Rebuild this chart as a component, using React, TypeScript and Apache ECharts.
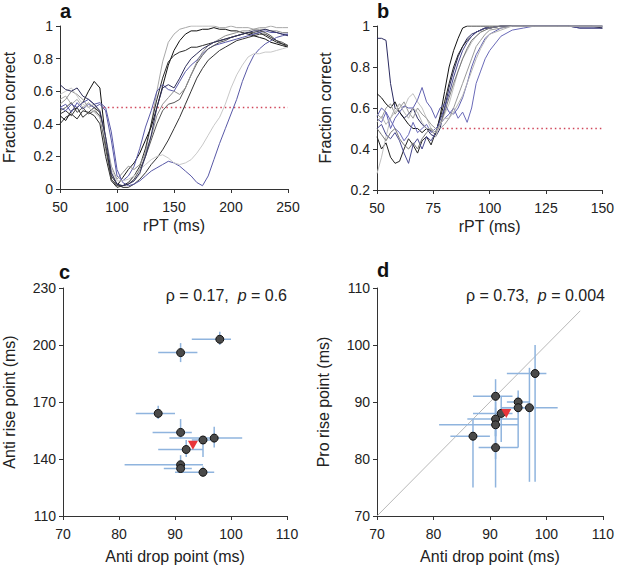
import React, { useEffect, useRef } from "react";
import * as echarts from "echarts";

const FONT = '"Liberation Sans", Arial, Helvetica, sans-serif';

// ---------- Panel a: anti-saccade tracking curves ----------
const aX = [50, 55, 60, 65, 70, 75, 80, 85, 90, 95, 100, 105, 110, 115, 120, 125, 130, 135, 140, 145, 150, 155, 160, 165, 170, 175, 180, 185, 190, 195, 200, 205, 210, 215, 220, 225, 230, 235, 240, 245, 250];
const aY1 = [0.55, 0.57, 0.52, 0.55, 0.5, 0.53, 0.5, 0.44, 0.3, 0.1, 0.03, 0.02, 0.03, 0.05, 0.09, 0.22, 0.4, 0.6, 0.78, 0.9, 0.95, 0.98, 0.99, 1, 1, 1, 1, 1, 0.99, 0.99, 1, 0.99, 0.99, 0.99, 0.98, 0.99, 0.99, 1, 0.99, 0.99, 0.99];
const aY2 = [0.45, 0.42, 0.48, 0.5, 0.53, 0.6, 0.66, 0.62, 0.3, 0.06, 0.02, 0.07, 0.12, 0.16, 0.22, 0.3, 0.38, 0.5, 0.63, 0.76, 0.85, 0.91, 0.95, 0.97, 0.97, 0.98, 0.98, 0.99, 0.98, 0.98, 0.97, 0.97, 0.96, 0.95, 0.94, 0.93, 0.92, 0.9, 0.89, 0.88, 0.87];
const aY3 = [0.4, 0.44, 0.46, 0.43, 0.48, 0.47, 0.45, 0.4, 0.2, 0.05, 0.01, 0.02, 0.04, 0.08, 0.14, 0.25, 0.4, 0.55, 0.68, 0.78, 0.82, 0.84, 0.85, 0.87, 0.87, 0.88, 0.89, 0.9, 0.91, 0.92, 0.93, 0.94, 0.95, 0.96, 0.95, 0.96, 0.94, 0.92, 0.9, 0.89, 0.88];
const aY4 = [0.5, 0.52, 0.47, 0.53, 0.49, 0.52, 0.5, 0.52, 0.48, 0.3, 0.08, 0.05, 0.08, 0.14, 0.25, 0.38, 0.48, 0.6, 0.64, 0.61, 0.6, 0.66, 0.72, 0.76, 0.79, 0.83, 0.86, 0.88, 0.89, 0.9, 0.91, 0.92, 0.93, 0.94, 0.95, 0.96, 0.97, 0.96, 0.96, 0.95, 0.95];
const aY5 = [0.48, 0.5, 0.53, 0.47, 0.5, 0.46, 0.48, 0.45, 0.25, 0.06, 0.02, 0.02, 0.03, 0.06, 0.12, 0.2, 0.3, 0.4, 0.48, 0.52, 0.53, 0.55, 0.62, 0.7, 0.77, 0.82, 0.86, 0.88, 0.9, 0.91, 0.93, 0.94, 0.95, 0.96, 0.96, 0.97, 0.96, 0.94, 0.91, 0.9, 0.88];
const aY6 = [0.52, 0.55, 0.6, 0.58, 0.55, 0.5, 0.52, 0.47, 0.32, 0.14, 0.06, 0.1, 0.14, 0.12, 0.15, 0.22, 0.32, 0.45, 0.52, 0.56, 0.6, 0.58, 0.62, 0.7, 0.78, 0.84, 0.88, 0.9, 0.92, 0.94, 0.95, 0.96, 0.97, 0.97, 0.98, 0.98, 0.98, 0.97, 0.97, 0.96, 0.96];
const aY7 = [0.46, 0.48, 0.45, 0.5, 0.44, 0.47, 0.5, 0.47, 0.28, 0.08, 0.03, 0.01, 0.01, 0.03, 0.06, 0.1, 0.15, 0.19, 0.24, 0.3, 0.37, 0.44, 0.52, 0.6, 0.68, 0.74, 0.79, 0.82, 0.85, 0.87, 0.89, 0.91, 0.92, 0.93, 0.94, 0.95, 0.95, 0.93, 0.91, 0.89, 0.87];
const aY8 = [0.5, 0.48, 0.52, 0.5, 0.53, 0.55, 0.52, 0.53, 0.5, 0.35, 0.12, 0.04, 0.02, 0.03, 0.05, 0.08, 0.11, 0.13, 0.15, 0.17, 0.16, 0.14, 0.11, 0.08, 0.04, 0.02, 0.08, 0.18, 0.28, 0.37, 0.46, 0.55, 0.66, 0.75, 0.82, 0.86, 0.89, 0.91, 0.93, 0.94, 0.95];
const aY9 = [0.58, 0.6, 0.62, 0.57, 0.52, 0.5, 0.47, 0.44, 0.3, 0.12, 0.05, 0.05, 0.06, 0.08, 0.12, 0.15, 0.18, 0.2, 0.21, 0.19, 0.16, 0.15, 0.16, 0.18, 0.22, 0.27, 0.33, 0.39, 0.44, 0.52, 0.62, 0.7, 0.76, 0.81, 0.83, 0.83, 0.84, 0.84, 0.85, 0.86, 0.87];
const aY10 = [0.64, 0.61, 0.6, 0.62, 0.57, 0.55, 0.52, 0.48, 0.32, 0.1, 0.03, 0.02, 0.03, 0.05, 0.1, 0.2, 0.33, 0.5, 0.62, 0.64, 0.62, 0.68, 0.75, 0.8, 0.83, 0.86, 0.88, 0.9, 0.91, 0.92, 0.93, 0.94, 0.95, 0.96, 0.97, 0.97, 0.98, 0.97, 0.96, 0.95, 0.94];
const aCurves = [aY1, aY2, aY3, aY4, aY5, aY6, aY7, aY8, aY9, aY10];
const aColors = ["#a8a8a8", "#111111", "#2a2a2a", "#5a5aa8", "#555555", "#909090", "#333333", "#5858a6", "#c8c8c8", "#2e2e5a"];
const aChance = [[88, 0.5], [250, 0.5]];

// ---------- Panel b: pro-saccade tracking curves ----------
const bX = [50, 52, 54, 56, 58, 60, 62, 64, 66, 68, 70, 72, 74, 76, 78, 80, 82, 84, 86, 88, 90, 92, 94, 96, 98, 100, 105, 110, 115, 120, 125, 130, 135, 140, 145, 150];
const bY1 = [0.94, 0.94, 0.93, 0.72, 0.6, 0.58, 0.55, 0.57, 0.6, 0.55, 0.52, 0.5, 0.47, 0.46, 0.5, 0.6, 0.7, 0.78, 0.85, 0.9, 0.94, 0.96, 0.97, 0.98, 0.99, 0.99, 1, 1, 1, 1, 1, 1, 1, 0.99, 0.99, 0.99];
const bY2 = [0.67, 0.65, 0.62, 0.6, 0.63, 0.58, 0.55, 0.52, 0.5, 0.5, 0.48, 0.5, 0.49, 0.47, 0.56, 0.68, 0.8, 0.88, 0.94, 0.99, 1, 1, 1, 1, 1, 1, 1, 1, 1, 1, 1, 1, 1, 1, 1, 1];
const bY3 = [0.46, 0.4, 0.43, 0.36, 0.33, 0.34, 0.4, 0.45, 0.42, 0.38, 0.44, 0.46, 0.42, 0.48, 0.55, 0.63, 0.72, 0.8, 0.86, 0.9, 0.93, 0.95, 0.97, 0.98, 0.99, 0.99, 1, 1, 1, 1, 1, 1, 1, 1, 1, 0.99];
const bY4 = [0.28, 0.36, 0.46, 0.55, 0.58, 0.62, 0.6, 0.65, 0.67, 0.63, 0.6, 0.55, 0.5, 0.46, 0.52, 0.57, 0.62, 0.7, 0.78, 0.84, 0.88, 0.92, 0.95, 0.97, 0.98, 0.99, 1, 1, 1, 1, 1, 1, 1, 1, 1, 1];
const bY5 = [0.56, 0.6, 0.58, 0.5, 0.55, 0.58, 0.61, 0.6, 0.6, 0.64, 0.7, 0.63, 0.6, 0.55, 0.6, 0.62, 0.58, 0.57, 0.6, 0.65, 0.72, 0.8, 0.86, 0.9, 0.94, 0.96, 0.99, 1, 1, 1, 1, 1, 1, 1, 1, 1];
const bY6 = [0.55, 0.53, 0.58, 0.54, 0.5, 0.48, 0.44, 0.47, 0.53, 0.48, 0.5, 0.52, 0.48, 0.5, 0.52, 0.55, 0.57, 0.6, 0.55, 0.58, 0.53, 0.6, 0.72, 0.78, 0.84, 0.88, 0.95, 0.98, 0.99, 1, 1, 1, 1, 1, 1, 1];
const bY7 = [0.5, 0.52, 0.47, 0.45, 0.48, 0.44, 0.38, 0.33, 0.42, 0.45, 0.4, 0.46, 0.44, 0.48, 0.54, 0.6, 0.67, 0.75, 0.82, 0.88, 0.92, 0.95, 0.97, 0.98, 0.99, 0.99, 1, 1, 1, 1, 1, 1, 1, 0.99, 0.99, 0.99];
const bY8 = [0.5, 0.47, 0.44, 0.48, 0.5, 0.45, 0.42, 0.4, 0.43, 0.4, 0.45, 0.48, 0.5, 0.48, 0.52, 0.58, 0.65, 0.72, 0.78, 0.84, 0.89, 0.93, 0.95, 0.97, 0.98, 0.99, 1, 1, 1, 1, 1, 1, 1, 1, 1, 1];
const bY9 = [0.57, 0.55, 0.6, 0.62, 0.57, 0.6, 0.63, 0.58, 0.55, 0.6, 0.57, 0.55, 0.52, 0.5, 0.5, 0.52, 0.55, 0.6, 0.66, 0.72, 0.78, 0.84, 0.9, 0.93, 0.96, 0.98, 0.99, 1, 1, 1, 1, 1, 1, 1, 1, 1];
const bY10 = [0.53, 0.56, 0.52, 0.55, 0.6, 0.62, 0.58, 0.55, 0.6, 0.58, 0.53, 0.5, 0.5, 0.48, 0.52, 0.55, 0.55, 0.58, 0.62, 0.66, 0.72, 0.78, 0.84, 0.89, 0.93, 0.96, 0.98, 1, 1, 1, 1, 1, 1, 1, 1, 1];
const bCurves = [bY1, bY2, bY3, bY4, bY5, bY6, bY7, bY8, bY9, bY10];
const bColors = ["#2a2a60", "#111111", "#222222", "#c0c0c0", "#6060b0", "#6a6ab8", "#4a4a90", "#777777", "#999999", "#b4b4b4"];
const bChance = [[77, 0.5], [150, 0.5]];

// ---------- Panel c: anti drop vs anti rise ----------
const cDrop = [98, 91, 87, 91, 95, 97, 92, 91, 91, 95];
const cRise = [203, 196, 164, 154, 150, 151, 145, 137, 135, 133];
const cDropLo = [93, 87, 83, 86, 93, 89, 87, 81, 88, 90];
const cDropHi = [100, 94, 90, 93, 97, 102, 95, 95, 93, 97];
const cRiseLo = [200, 191, 161, 151, 141, 146, 141, 133, 133, 131];
const cRiseHi = [207, 201, 168, 161, 152, 157, 150, 142, 138, 136];
const cMean = [93.2, 147.2];
const cYTicks = [110, 140, 170, 200, 230];

// ---------- Panel d: anti drop vs pro rise ----------
const dDrop = [98, 97, 95, 95, 91, 92, 91, 91, 87, 91];
const dRise = [95, 89, 90, 89, 91, 88, 87, 86, 84, 82];
const dDropLo = [93, 92, 93, 92, 87, 87, 86, 81, 83, 88];
const dDropHi = [100, 102, 97, 97, 94, 94, 95, 95, 90, 95];
const dRiseLo = [76, 76, 88, 82, 75, 83, 84, 84, 75, 80];
const dRiseHi = [100, 96, 92, 91, 94, 91, 90, 89, 87, 85];
const dMean = [92.9, 88.0];
const dIdentity = [[70, 70], [106, 106]];

const AXIS_COLOR = "#333";
const TEXT_COLOR = "#222";

function baseAxis(extra: any, labelMargin: number) {
  return {
    type: "value",
    nameLocation: "middle",
    nameTextStyle: { fontSize: 16, color: TEXT_COLOR, fontFamily: FONT },
    axisLine: { show: true, onZero: false, lineStyle: { color: AXIS_COLOR, width: 1 } },
    axisTick: { show: true, inside: false, length: 4, lineStyle: { color: AXIS_COLOR, width: 1 } },
    axisLabel: { fontSize: 14, color: TEXT_COLOR, fontFamily: FONT, margin: labelMargin },
    splitLine: { show: false },
    ...extra,
  };
}

function errorBarSeries(idx: number, xs: number[], ys: number[], xl: number[], xh: number[], yl: number[], yh: number[]) {
  return {
    type: "custom",
    xAxisIndex: idx,
    yAxisIndex: idx,
    z: 2,
    silent: true,
    renderItem: (_params: any, api: any) => {
      const x = api.value(0);
      const y = api.value(1);
      const c = api.coord([x, y]);
      const l = api.coord([api.value(2), y]);
      const r = api.coord([api.value(3), y]);
      const b = api.coord([x, api.value(4)]);
      const t = api.coord([x, api.value(5)]);
      const style = { stroke: "#8fb4de", lineWidth: 1.5 };
      return {
        type: "group",
        children: [
          { type: "line", shape: { x1: l[0], y1: c[1], x2: r[0], y2: c[1] }, style },
          { type: "line", shape: { x1: c[0], y1: b[1], x2: c[0], y2: t[1] }, style },
        ],
      };
    },
    encode: { x: [0, 2, 3], y: [1, 4, 5] },
    data: xs.map((x, i) => [x, ys[i], xl[i], xh[i], yl[i], yh[i]]),
  };
}

function pointSeries(idx: number, xs: number[], ys: number[]) {
  return {
    type: "scatter",
    xAxisIndex: idx,
    yAxisIndex: idx,
    z: 4,
    symbol: "circle",
    symbolSize: 8,
    itemStyle: { color: "#4a4a4a", borderColor: "#111", borderWidth: 1, opacity: 1 },
    data: xs.map((x, i) => [x, ys[i]]),
  };
}

function meanSeries(idx: number, m: number[]) {
  return {
    type: "scatter",
    xAxisIndex: idx,
    yAxisIndex: idx,
    z: 5,
    symbol: "triangle",
    symbolRotate: 180,
    symbolSize: [10, 9],
    itemStyle: { color: "#e8353a", opacity: 1 },
    data: [m],
  };
}

export default function App() {
  const ref = useRef<HTMLDivElement>(null);

  useEffect(() => {
    if (!ref.current) return;
    const chart = echarts.init(ref.current, undefined, { renderer: "svg" });

    const series: any[] = [];
    series.push({
      type: "line", xAxisIndex: 0, yAxisIndex: 0, data: aChance, showSymbol: false, z: 1,
      lineStyle: { color: "#d0465a", width: 1.5, type: [1.5, 3] }, silent: true,
    });
    aCurves.forEach((ys, i) => {
      series.push({
        type: "line", xAxisIndex: 0, yAxisIndex: 0, showSymbol: false, symbol: "none", z: 2,
        lineStyle: { color: aColors[i], width: 1 }, silent: true,
        data: aX.map((x, j) => [x, ys[j]]),
      });
    });
    series.push({
      type: "line", xAxisIndex: 1, yAxisIndex: 1, data: bChance, showSymbol: false, z: 1,
      lineStyle: { color: "#d0465a", width: 1.5, type: [1.5, 3] }, silent: true,
    });
    bCurves.forEach((ys, i) => {
      series.push({
        type: "line", xAxisIndex: 1, yAxisIndex: 1, showSymbol: false, symbol: "none", z: 2,
        lineStyle: { color: bColors[i], width: 1 }, silent: true,
        data: bX.map((x, j) => [x, ys[j]]),
      });
    });
    series.push(errorBarSeries(2, cDrop, cRise, cDropLo, cDropHi, cRiseLo, cRiseHi));
    series.push(pointSeries(2, cDrop, cRise));
    series.push(meanSeries(2, cMean));
    series.push({
      type: "line", xAxisIndex: 3, yAxisIndex: 3, data: dIdentity, showSymbol: false, z: 1,
      lineStyle: { color: "#b8b8b8", width: 1 }, silent: true,
    });
    series.push(errorBarSeries(3, dDrop, dRise, dDropLo, dDropHi, dRiseLo, dRiseHi));
    series.push(pointSeries(3, dDrop, dRise));
    series.push(meanSeries(3, dMean));

    const letter = (t: string, x: number, y: number) => ({
      type: "text",
      x, y,
      style: { text: t, fontSize: 20, fontWeight: "bold", fontFamily: FONT, fill: "#111", verticalAlign: "top", align: "left" },
    });
    const corr = (r: string, p: string, x: number, y: number) => ({
      type: "text",
      x, y,
      style: {
        text: `{n|ρ = ${r},  }{i|p}{n| = ${p}}`,
        align: "right",
        verticalAlign: "middle",
        rich: {
          n: { fontSize: 16, fontFamily: FONT, fill: TEXT_COLOR },
          i: { fontSize: 16, fontFamily: FONT, fontStyle: "italic", fill: TEXT_COLOR },
        },
      },
    });

    chart.setOption({
      animation: false,
      backgroundColor: "#fff",
      textStyle: { fontFamily: FONT },
      grid: [
        { left: 59, top: 26, width: 229, height: 163 },
        { left: 377, top: 26, width: 228, height: 164 },
        { left: 59, top: 288, width: 228, height: 229 },
        { left: 377, top: 288, width: 228, height: 229 },
      ],
      xAxis: [
        baseAxis({ gridIndex: 0, min: 50, max: 250, interval: 50, name: "rPT (ms)", nameGap: 28 }, 11),
        baseAxis({ gridIndex: 1, min: 50, max: 150, interval: 25, name: "rPT (ms)", nameGap: 28 }, 11),
        baseAxis({ gridIndex: 2, min: 70, max: 110, interval: 10, name: "Anti drop point (ms)", nameGap: 32 }, 11),
        baseAxis({ gridIndex: 3, min: 70, max: 110, interval: 10, name: "Anti drop point (ms)", nameGap: 32 }, 11),
      ],
      yAxis: [
        baseAxis({ gridIndex: 0, min: 0, max: 1, interval: 0.2, name: "Fraction correct", nameRotate: 90, nameGap: 43 }, 7),
        baseAxis({ gridIndex: 1, min: 0.2, max: 1, interval: 0.2, name: "Fraction correct", nameRotate: 90, nameGap: 44 }, 7),
        baseAxis({
          gridIndex: 2, min: 110, max: 230, name: "Anti rise point (ms)", nameRotate: 90, nameGap: 46,
          axisLabel: { fontSize: 14, color: TEXT_COLOR, fontFamily: FONT, margin: 7, customValues: cYTicks },
          axisTick: { show: true, inside: false, length: 4, lineStyle: { color: AXIS_COLOR, width: 1 }, customValues: cYTicks },
        }, 7),
        baseAxis({ gridIndex: 3, min: 70, max: 110, interval: 10, name: "Pro rise point (ms)", nameRotate: 90, nameGap: 46 }, 7),
      ],
      graphic: [
        letter("a", 60, 1),
        letter("b", 377, 1),
        letter("c", 59, 262),
        letter("d", 377, 260),
        corr("0.17", "0.6", 287, 295),
        corr("0.73", "0.004", 605, 295),
      ],
      series,
    });

    return () => chart.dispose();
  }, []);

  return (
    <div
      ref={ref}
      style={{ position: "absolute", left: 0, top: 0, width: 617, height: 565, background: "#fff" }}
    />
  );
}
